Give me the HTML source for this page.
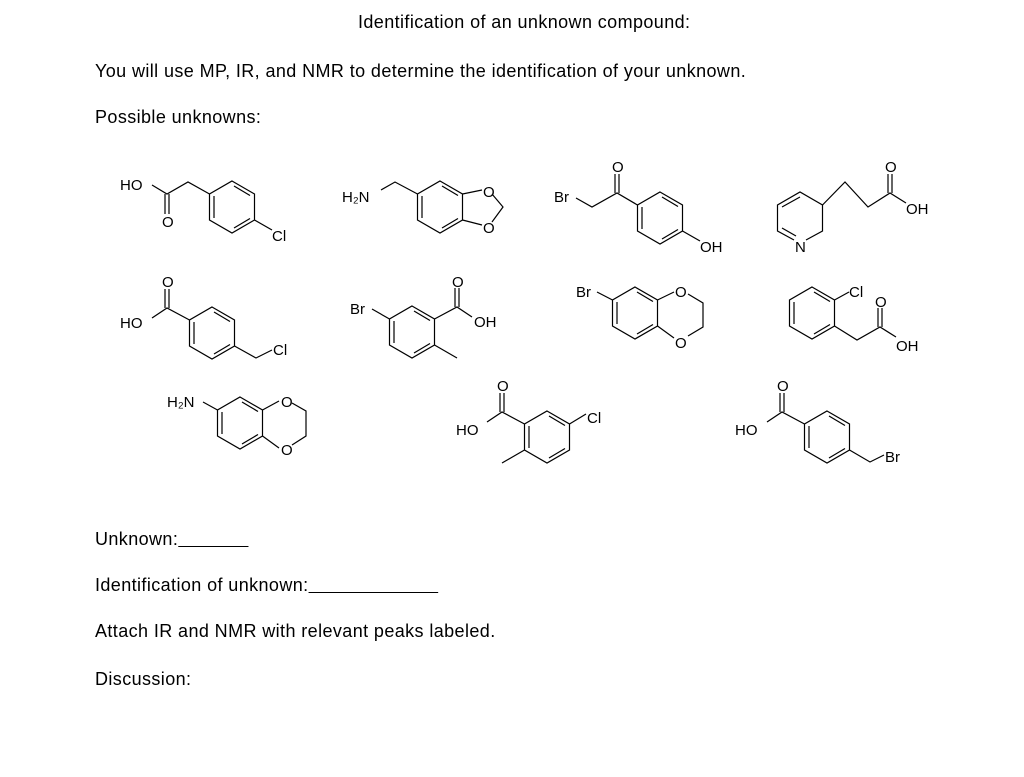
<!DOCTYPE html>
<html><head><meta charset="utf-8"><style>
body{margin:0;background:#fff;width:1024px;height:777px;overflow:hidden;position:relative;font-family:"Liberation Sans",sans-serif;}
.t{position:absolute;font-size:18px;letter-spacing:0.4px;color:#000;white-space:pre;}
svg{position:absolute;left:0;top:0;}
svg text{font-family:"Liberation Sans",sans-serif;font-size:15px;fill:#000;}
</style></head><body>
<div class="t" style="left:358px;top:12px;">Identification of an unknown compound:</div>
<div class="t" style="left:95px;top:61px;">You will use MP, IR, and NMR to determine the identification of your unknown.</div>
<div class="t" style="left:95px;top:107px;">Possible unknowns:</div>
<div class="t" style="left:95px;top:529px;">Unknown:<span style="text-decoration:underline">             </span></div>
<div class="t" style="left:95px;top:575px;">Identification of unknown:<span style="text-decoration:underline">                        </span></div>
<div class="t" style="left:95px;top:621px;">Attach IR and NMR with relevant peaks labeled.</div>
<div class="t" style="left:95px;top:669px;">Discussion:</div>
<svg width="1024" height="777" stroke="#000" stroke-width="1.2" fill="none">
<defs>
<g id="hx"><polygon points="0,-26 22.5,-13 22.5,13 0,26 -22.5,13 -22.5,-13"/>
<line x1="2" y1="-21" x2="18" y2="-11.5"/><line x1="18" y1="11.5" x2="2" y2="21"/><line x1="-18" y1="11" x2="-18" y2="-11"/></g>
</defs>
<use href="#hx" x="232" y="207"/>
<polyline points="209.5,194 188,182 167,194 152,185"/>
<line x1="165" y1="194" x2="165" y2="214"/><line x1="169" y1="194" x2="169" y2="214"/>
<line x1="254.5" y1="220" x2="272" y2="230"/>
<use href="#hx" x="440" y="207"/>
<polyline points="381,190 395,182 417.5,194"/>
<polyline points="462.5,194 482,190"/><polyline points="492,194 503,207 492,222"/><polyline points="482,225 462.5,220"/>
<use href="#hx" x="212" y="333"/>
<polyline points="189.5,320 167,308 152,318"/>
<line x1="165" y1="308" x2="165" y2="289"/><line x1="169" y1="308" x2="169" y2="289"/>
<polyline points="234.5,346 256,358 272,350"/>
<use href="#hx" x="412" y="332"/>
<line x1="389.5" y1="319" x2="372" y2="309"/>
<polyline points="434.5,319 457,307 472,317"/>
<line x1="455" y1="307" x2="455" y2="288"/><line x1="459" y1="307" x2="459" y2="288"/>
<line x1="434.5" y1="345" x2="457" y2="358"/>
<use href="#hx" x="660" y="218"/>
<polyline points="637.5,205 617,193 592,207 576,198"/>
<line x1="615" y1="193" x2="615" y2="174"/><line x1="619" y1="193" x2="619" y2="174"/>
<line x1="682.5" y1="231" x2="700" y2="241"/>
<polyline points="806,240 822.5,231 822.5,205 800,192 777.5,205 777.5,231 794,240"/>
<line x1="800" y1="197" x2="782" y2="207"/><line x1="796" y1="236" x2="782" y2="228"/>
<polyline points="822.5,205 845,182 868,207 890,193 906,203"/>
<line x1="888" y1="193" x2="888" y2="174"/><line x1="892" y1="193" x2="892" y2="174"/>
<use href="#hx" x="635" y="313"/>
<line x1="612.5" y1="300" x2="597" y2="292"/>
<polyline points="657.5,300 674,292"/><polyline points="688,294 703,303 703,327 688,336"/><polyline points="674,338 657.5,326"/>
<use href="#hx" x="812" y="313"/>
<line x1="834.5" y1="300" x2="849" y2="292"/>
<polyline points="834.5,326 857,340 880,327 896,337"/>
<line x1="878" y1="327" x2="878" y2="308"/><line x1="882" y1="327" x2="882" y2="308"/>
<use href="#hx" x="240" y="423"/>
<line x1="217.5" y1="410" x2="203" y2="402"/>
<polyline points="262.5,410 279,401"/><polyline points="292,403 306,411 306,436 292,445"/><polyline points="279,448 262.5,436"/>
<use href="#hx" x="547" y="437"/>
<polyline points="524.5,424 502,412 487,422"/>
<line x1="500" y1="412" x2="500" y2="393"/><line x1="504" y1="412" x2="504" y2="393"/>
<line x1="569.5" y1="424" x2="586" y2="414"/>
<line x1="524.5" y1="450" x2="502" y2="463"/>
<use href="#hx" x="827" y="437"/>
<polyline points="804.5,424 782,412 767,422"/>
<line x1="780" y1="412" x2="780" y2="393"/><line x1="784" y1="412" x2="784" y2="393"/>
<polyline points="849.5,450 870,462 884,455"/>
<g stroke="none">
<text x="120" y="190">HO</text><text x="162" y="227">O</text><text x="272" y="241">Cl</text>
<text x="342" y="202">H₂N</text><text x="483" y="197">O</text><text x="483" y="233">O</text>
<text x="120" y="328">HO</text><text x="162" y="287">O</text><text x="273" y="355">Cl</text>
<text x="350" y="314">Br</text><text x="452" y="287">O</text><text x="474" y="327">OH</text>
<text x="554" y="202">Br</text><text x="612" y="172">O</text><text x="700" y="252">OH</text>
<text x="795" y="252">N</text><text x="885" y="172">O</text><text x="906" y="214">OH</text>
<text x="576" y="297">Br</text><text x="675" y="297">O</text><text x="675" y="348">O</text>
<text x="849" y="297">Cl</text><text x="875" y="307">O</text><text x="896" y="351">OH</text>
<text x="167" y="407">H₂N</text><text x="281" y="407">O</text><text x="281" y="455">O</text>
<text x="456" y="435">HO</text><text x="497" y="391">O</text><text x="587" y="423">Cl</text>
<text x="735" y="435">HO</text><text x="777" y="391">O</text><text x="885" y="462">Br</text>
</g>
</svg>
</body></html>
